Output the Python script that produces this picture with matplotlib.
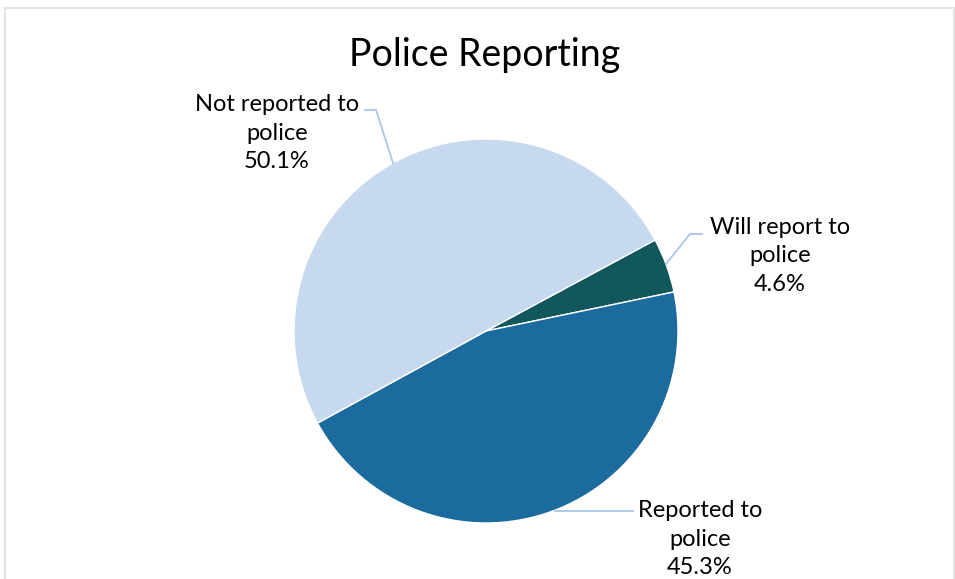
import matplotlib.pyplot as plt
from matplotlib.patches import Rectangle

labels = ["Will report to\npolice", "Reported to\npolice", "Not reported to\npolice"]
values = [4.6, 45.3, 50.1]
colors = ["#12575B", "#1C6B9E", "#C7D9EF"]

# label text positions and leader lines (pixel coords, y from top)
label_pos = [(780, 256), (700, 539), (277, 133)]
leaders = [
    [(666, 264), (690, 234), (702, 234)],
    [(555, 511), (633, 511)],
    [(393, 163), (376, 110), (365, 110)],
]

W, H = 955, 579
fig = plt.figure(figsize=(W / 100, H / 100), dpi=100)
ax = fig.add_axes([0, 0, 1, 1])

ax.pie(values, colors=colors, startangle=28.3, counterclock=False,
       center=(486, H - 331), radius=192,
       wedgeprops=dict(edgecolor="white", linewidth=1))
ax.set_xlim(0, W)
ax.set_ylim(0, H)
ax.set_aspect("equal")
ax.axis("off")

# chart border
ax.add_patch(Rectangle((5, -10), 949, H - 8 + 10, fill=False,
                       edgecolor="#E3E3E3", linewidth=1.5))

for pts in leaders:
    xs = [p[0] for p in pts]
    ys = [H - p[1] for p in pts]
    ax.plot(xs, ys, color="#A9C6EA", linewidth=1.3)

for lab, v, (x, y) in zip(labels, values, label_pos):
    ax.text(x, H - y, f"{lab}\n{v}%", ha="center", va="center",
            fontsize=17, family="Lato", linespacing=1.45, color="black")

ax.text(485, H - 55, "Police Reporting", ha="center", va="center",
        fontsize=27, family="Lato", color="black")

plt.savefig("out.png", dpi=100)
